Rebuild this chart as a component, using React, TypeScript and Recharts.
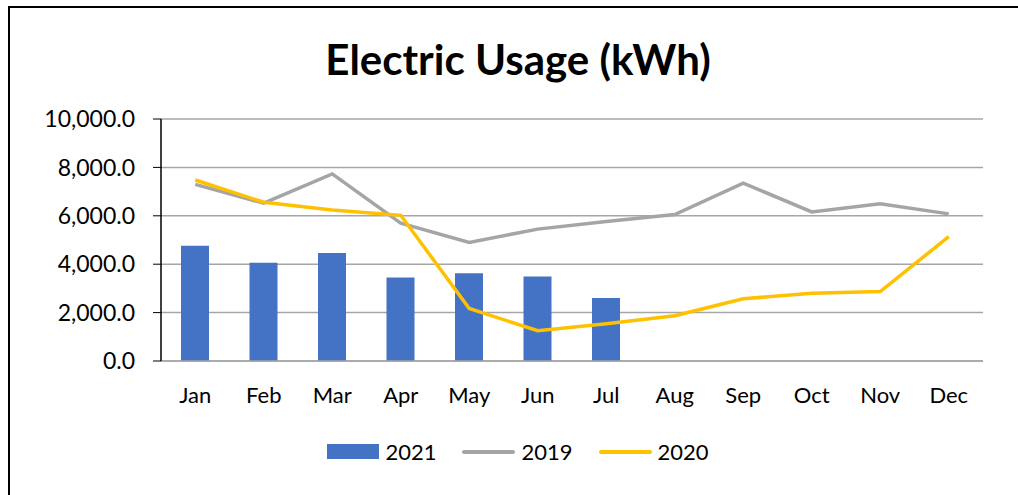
import { ComposedChart, Bar, Line, XAxis, YAxis, CartesianGrid, Legend } from 'recharts';

const months = ['Jan', 'Feb', 'Mar', 'Apr', 'May', 'Jun', 'Jul', 'Aug', 'Sep', 'Oct', 'Nov', 'Dec'];
const usage2021 = [4760, 4060, 4460, 3450, 3630, 3490, 2600, null, null, null, null, null];
const usage2019 = [7300, 6520, 7730, 5700, 4900, 5450, 5760, 6050, 7350, 6160, 6500, 6080];
const usage2020 = [7480, 6560, 6240, 6020, 2170, 1250, 1540, 1870, 2570, 2800, 2870, 5140];
const yTicks = [0, 2000, 4000, 6000, 8000, 10000];
const legendOrder = ['2021', '2019', '2020'];

const data = months.map((m, i) => ({
  month: m,
  y2021: usage2021[i],
  y2019: usage2019[i],
  y2020: usage2020[i],
}));

const FONT = 'Lato, "Open Sans", sans-serif';

const fmt = (v: number) => v.toLocaleString('en-US', { minimumFractionDigits: 1, maximumFractionDigits: 1 });

function LegendContent({ payload }: any) {
  if (!payload) return null;
  const items = [...payload].sort((a: any, b: any) => legendOrder.indexOf(a.value) - legendOrder.indexOf(b.value));
  return (
    <div style={{ display: 'flex', justifyContent: 'center', alignItems: 'center', gap: 26, fontFamily: FONT, fontSize: 22, color: '#000' }}>
      {items.map((p: any) => (
        <div key={p.value} style={{ display: 'flex', alignItems: 'center' }}>
          {p.type === 'rect' ? (
            <div style={{ width: 52, height: 15, background: p.color, marginRight: 6 }} />
          ) : (
            <div style={{ width: 53, height: 4, borderRadius: 2, background: p.color, marginRight: 6 }} />
          )}
          <span>{p.value}</span>
        </div>
      ))}
    </div>
  );
}

export default function App() {
  return (
    <div style={{ position: 'absolute', left: 8, top: 6, width: 1016, height: 495, border: '2px solid #000', background: '#fff' }}>
      <div style={{ position: 'absolute', top: 26, left: 0, width: 1016, textAlign: 'center', fontFamily: FONT, fontWeight: 700, fontSize: 42, color: '#000' }}>
        Electric Usage (kWh)
      </div>
      <ComposedChart
        width={1016}
        height={487}
        data={data}
        margin={{ top: 111, right: 43, left: 0, bottom: 94 }}
        barSize={28}
      >
        <CartesianGrid vertical={false} stroke="#a6a6a6" strokeWidth={1.5} />
        <XAxis
          dataKey="month"
          axisLine={{ stroke: '#a6a6a6', strokeWidth: 1.5 }}
          tickLine={false}
          tickMargin={20}
          height={40}
          tick={{ fill: '#000', fontSize: 22, fontFamily: FONT }}
        />
        <YAxis
          width={151}
          domain={[0, 10000]}
          ticks={yTicks}
          tickFormatter={fmt}
          axisLine={{ stroke: '#000', strokeWidth: 1.5 }}
          tickLine={{ stroke: '#000' }}
          tickSize={8}
          tickMargin={18}
          tick={{ fill: '#000', fontSize: 23, fontFamily: FONT }}
        />
        <Legend
          verticalAlign="middle"
          layout="horizontal"
          wrapperStyle={{ top: 430, left: 0, width: 1016 }}
          content={LegendContent}
        />
        <Bar dataKey="y2021" name="2021" fill="#4472C4" legendType="rect" isAnimationActive={false} />
        <Line dataKey="y2019" name="2019" stroke="#A5A5A5" strokeWidth={3.5} dot={false} legendType="line" isAnimationActive={false} />
        <Line dataKey="y2020" name="2020" stroke="#FFC000" strokeWidth={3.5} dot={false} legendType="line" isAnimationActive={false} />
      </ComposedChart>
    </div>
  );
}
